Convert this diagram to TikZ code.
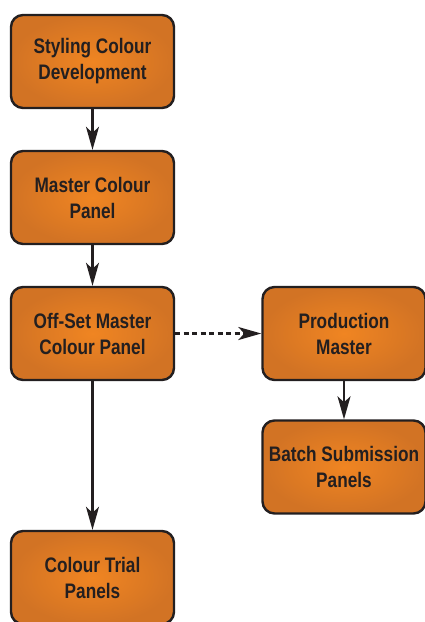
\documentclass[tikz,border=0pt]{standalone}
\usepackage{fontspec}
\setmainfont{Liberation Sans}[FakeStretch=0.82]
\usetikzlibrary{arrows.meta}
\definecolor{boxin}{HTML}{F08522}
\definecolor{boxout}{HTML}{D27324}
\definecolor{ink}{HTML}{231F20}
\tikzset{
  stage/.style={draw=ink, line width=2.4pt, rounded corners=12pt,
    shading=radial, inner color=boxin, outer color=boxout,
    minimum width=163pt, minimum height=93pt, align=center,
    text=ink, font=\fontsize{21}{26}\selectfont\bfseries, inner sep=0pt},
  flow/.style={draw=ink, line width=2.2pt, -{Stealth[length=23pt,width=13pt,inset=6pt]}},
}
\begin{document}
\begin{tikzpicture}[x=1pt,y=-1pt]
\useasboundingbox (0,0) rectangle (425,622);
\node[stage] (styling) at (92.5,61.5) {Styling Colour\\Development};
\node[stage] (master) at (92.5,197.5) {Master Colour\\Panel};
\node[stage] (offset) at (92.5,333.5) {Off-Set Master\\Colour Panel};
\node[stage] (production) at (344,333.5) {Production\\Master};
\node[stage] (batch) at (344,467) {Batch Submission\\Panels};
\node[stage] (trial) at (92.5,577.5) {Colour Trial\\Panels};
\draw[flow] (styling) -- (master);
\draw[flow] (master) -- (offset);
\draw[flow, dash pattern=on 5pt off 3.5pt] (offset) -- (production);
\draw[flow] (production) -- (batch);
\draw[flow] (offset) -- (trial);
\end{tikzpicture}
\end{document}
